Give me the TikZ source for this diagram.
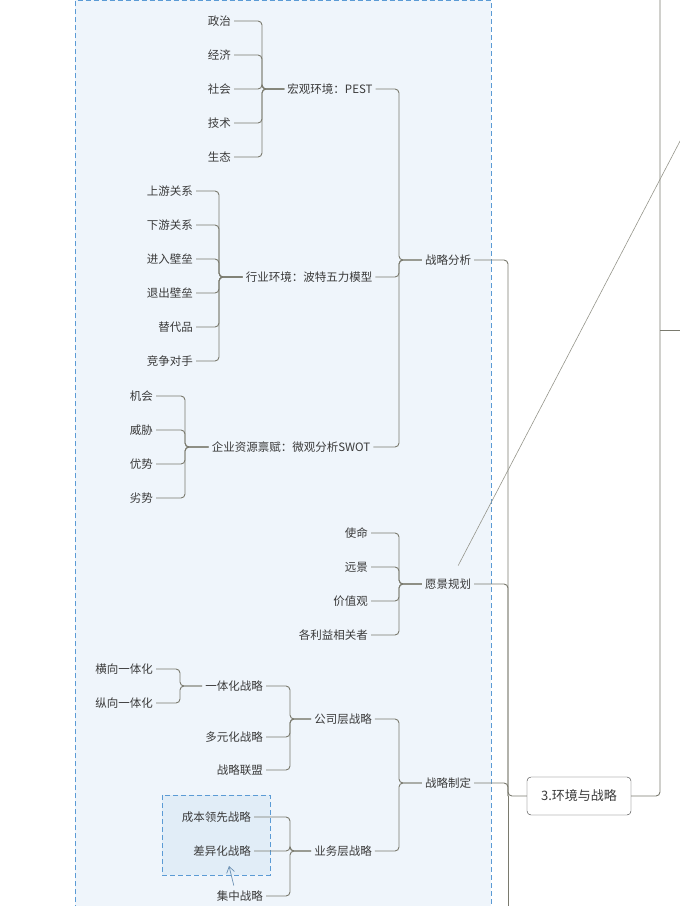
\documentclass[tikz,border=0pt]{standalone}
\usepackage{fontspec}
\setmainfont{Noto Sans CJK SC}
\usetikzlibrary{arrows.meta}
\definecolor{ln}{HTML}{7A7A6E}
\definecolor{tx}{HTML}{3A3A3A}
\definecolor{bl}{HTML}{5B9BD5}
\tikzset{t/.style={font=\fontsize{11.5}{13}\selectfont,text=tx,inner sep=3pt},
 c/.style={draw=ln,line width=0.9pt,rounded corners=4pt}}
\newcommand{\brk}[3]{\foreach \ch in {#3}{\draw[c] (\ch.east) -| (#1,0|-#2.west) -- (#2.west);}}
\begin{document}
\begin{tikzpicture}[x=1pt,y=-1pt]
\useasboundingbox (0,0) rectangle (680,906);
\fill[bl!10] (75,-2) rectangle (491,910);
\draw[bl,dashed,line width=1pt,dash pattern=on 5pt off 3pt] (75,910) -- (75,0.5) -- (491,0.5) -- (491,910);
\draw[bl,dashed,fill=bl!18,line width=1pt,dash pattern=on 5pt off 3pt] (162,795) rectangle (270,875);
% level 1
\node[t] (a) at (448,260) {战略分析};
\node[t] (b) at (448,584) {愿景规划};
\node[t] (d) at (448,783) {战略制定};
\node[t,draw=tx,rounded corners=4pt,minimum width=104pt,minimum height=38pt,font=\fontsize{13}{15}\selectfont] (r) at (579,796) {3.环境与战略};
\coordinate (bot) at (508,910);
\draw[c] (r.west) -- (508,796) |- (a.east);
\draw[c] (508,796) |- (b.east);
\draw[c] (508,796) |- (d.east);
\draw[c] (508,796) -- (bot);
\coordinate (tp) at (660,-5);
\coordinate (rt) at (685,330);
\draw[c] (r.east) -| (tp);
\draw[c] (660,330) -- (rt);
\coordinate (dg) at (690,122);
\draw[ln!80,line width=0.6pt] (b.north east) ++(-16,-10) coordinate (b0) -- (dg);
% PEST
\node[t] (p) at (330,89) {宏观环境：PEST};
\node[t] (h) at (309,277) {行业环境：波特五力模型};
\node[t] (s) at (291,447) {企业资源禀赋：微观分析SWOT};
\brk{399}{a}{p,h,s}
\foreach \n/\y in {政治/21,经济/55,社会/89,技术/123,生态/157}{\node[t,anchor=east] (p\y) at (234,\y) {\n};}
\brk{262}{p}{p21,p55,p89,p123,p157}
\foreach \n/\y in {上游关系/191,下游关系/225,进入壁垒/259,退出壁垒/293,替代品/327,竞争对手/361}{\node[t,anchor=east] (h\y) at (196,\y) {\n};}
\brk{219}{h}{h191,h225,h259,h293,h327,h361}
\foreach \n/\y in {机会/396,威胁/430,优势/464,劣势/498}{\node[t,anchor=east] (s\y) at (156,\y) {\n};}
\brk{185}{s}{s396,s430,s464,s498}
\foreach \n/\y in {使命/533,远景/567,价值观/601,各利益相关者/635}{\node[t,anchor=east] (b\y) at (371,\y) {\n};}
\brk{399}{b}{b533,b567,b601,b635}
% 战略制定
\node[t] (g) at (343,719) {公司层战略};
\node[t] (y) at (343,851) {业务层战略};
\brk{399}{d}{g,y}
\node[t,anchor=east] (g1) at (266,686) {一体化战略};
\node[t,anchor=east] (g2) at (266,737) {多元化战略};
\node[t,anchor=east] (g3) at (266,770) {战略联盟};
\brk{290}{g}{g1,g2,g3}
\node[t,anchor=east] (i1) at (156,669) {横向一体化};
\node[t,anchor=east] (i2) at (156,703) {纵向一体化};
\brk{180}{g1}{i1,i2}
\node[t,anchor=east] (y1) at (254,817) {成本领先战略};
\node[t,anchor=east] (y2) at (254,851) {差异化战略};
\node[t,anchor=east] (y3) at (266,896) {集中战略};
\brk{290}{y}{y1,y2,y3}
\coordinate (bx) at (229,866);
\draw[bl!60!gray,line width=0.7pt,-{Straight Barb[length=6pt,width=8pt]}] (y3.north) ++(-6,-2) -- (bx);
\end{tikzpicture}
\end{document}
